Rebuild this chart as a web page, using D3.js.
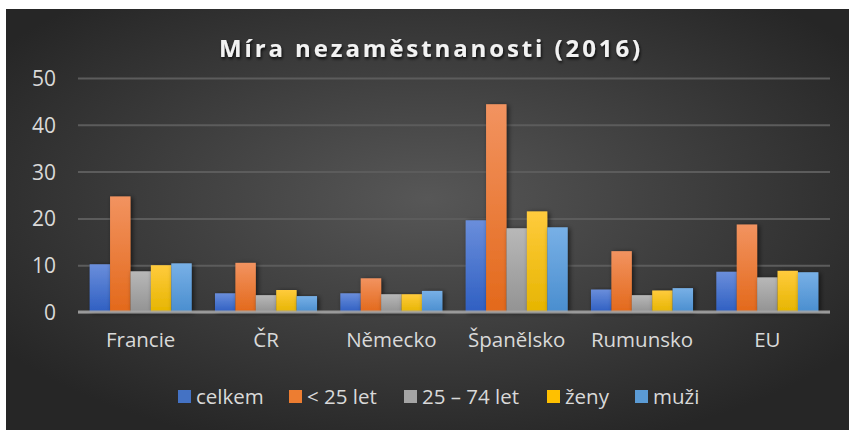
<!DOCTYPE html>
<html>
<head>
<meta charset="utf-8">
<script src="https://cdn.jsdelivr.net/npm/d3@7"></script>
<style>
  body { margin: 0; background: #fff; }
  svg { display: block; }
</style>
</head>
<body>
<div id="chart"></div>
<script>
var categories = ["Francie", "ČR", "Německo", "Španělsko", "Rumunsko", "EU"];
var seriesNames = ["celkem", "< 25 let", "25 – 74 let", "ženy", "muži"];
var celkem = [10.2, 4.0, 4.0, 19.6, 4.8, 8.6];
var pod25 = [24.7, 10.5, 7.2, 44.4, 13.0, 18.7];
var od25do74 = [8.7, 3.6, 3.8, 17.9, 3.6, 7.4];
var zeny = [10.0, 4.7, 3.8, 21.5, 4.6, 8.8];
var muzi = [10.4, 3.4, 4.5, 18.1, 5.1, 8.5];
var yTicks = [0, 10, 20, 30, 40, 50];

var seriesValues = [celkem, pod25, od25do74, zeny, muzi];
var colors = [
  ["#6a8edb", "#2f5fc2"],
  ["#f29360", "#e3691b"],
  ["#b8b8b8", "#939393"],
  ["#ffcb3d", "#e6b500"],
  ["#78b0e6", "#4a8ecf"]
];
var legendColors = ["#4472c4", "#ed7d31", "#a5a5a5", "#ffc000", "#5b9bd5"];

function init() {
  var w = 849, h = 430;
  var left = 78, right = 830, top = 78, bottom = 312;

  var svg = d3.select("#chart").append("svg")
    .attr("width", w)
    .attr("height", h);

  var defs = svg.append("defs");
  var bg = defs.append("radialGradient")
    .attr("id", "bg")
    .attr("cx", "50%").attr("cy", "45%").attr("r", "62%");
  bg.append("stop").attr("offset", "0%").attr("stop-color", "#575757");
  bg.append("stop").attr("offset", "100%").attr("stop-color", "#262626");

  colors.forEach(function(c, i) {
    var g = defs.append("linearGradient")
      .attr("id", "bar" + i)
      .attr("x1", 0).attr("y1", 0).attr("x2", 0).attr("y2", 1);
    g.append("stop").attr("offset", "0%").attr("stop-color", c[0]);
    g.append("stop").attr("offset", "100%").attr("stop-color", c[1]);
  });

  var sh = defs.append("filter").attr("id", "shadow")
    .attr("x", "-20%").attr("y", "-10%").attr("width", "160%").attr("height", "130%");
  sh.append("feDropShadow")
    .attr("dx", 2).attr("dy", 1).attr("stdDeviation", 2.5)
    .attr("flood-color", "#000").attr("flood-opacity", 0.6);

  var tsh = defs.append("filter").attr("id", "tshadow");
  tsh.append("feDropShadow")
    .attr("dx", 1).attr("dy", 2).attr("stdDeviation", 1.5)
    .attr("flood-color", "#000").attr("flood-opacity", 0.8);

  svg.append("rect")
    .attr("x", 6).attr("y", 9)
    .attr("width", w - 6).attr("height", h - 9)
    .attr("fill", "url(#bg)");

  var x0 = d3.scaleBand()
    .domain(categories)
    .range([left, right])
    .paddingInner(0.186)
    .paddingOuter(0.093);

  var x1 = d3.scaleBand()
    .domain(d3.range(seriesNames.length))
    .range([0, x0.bandwidth()]);

  var y = d3.scaleLinear()
    .domain([0, 50])
    .range([bottom, top]);

  // gridlines
  var yAxis = d3.axisLeft(y)
    .tickValues(yTicks)
    .tickSize(-(right - left))
    .tickPadding(22)
    .tickFormat(d3.format("d"));

  var ga = svg.append("g")
    .attr("transform", "translate(" + left + ",0)")
    .call(yAxis);
  ga.select(".domain").remove();
  ga.selectAll(".tick line")
    .attr("stroke", "#5c5c5c")
    .attr("stroke-width", 2);
  ga.selectAll(".tick text")
    .attr("fill", "#d9d9d9")
    .attr("font-family", "'Open Sans', sans-serif")
    .attr("font-size", "21px")
    .attr("dy", "0.36em");

  // bars
  var groups = svg.selectAll("g.cat")
    .data(categories)
    .enter()
    .append("g")
    .attr("class", "cat")
    .attr("transform", function(d) {
      return "translate(" + x0(d) + ",0)";
    });

  groups.selectAll("rect")
    .data(function(d, ci) {
      return seriesValues.map(function(s, si) {
        return { si: si, v: s[ci] };
      });
    })
    .enter()
    .append("rect")
    .attr("x", function(d) { return x1(d.si); })
    .attr("y", function(d) { return y(d.v); })
    .attr("width", x1.bandwidth())
    .attr("height", function(d) { return y(0) - y(d.v); })
    .attr("fill", function(d) { return "url(#bar" + d.si + ")"; })
    .attr("filter", "url(#shadow)");

  // baseline
  svg.append("line")
    .attr("x1", left).attr("x2", right)
    .attr("y1", y(0)).attr("y2", y(0))
    .attr("stroke", "#a6a6a6")
    .attr("stroke-opacity", 0.85)
    .attr("stroke-width", 3);

  // category labels
  var xAxis = d3.axisBottom(x0).tickSize(0).tickPadding(20);
  var gx = svg.append("g")
    .attr("transform", "translate(0," + y(0) + ")")
    .call(xAxis);
  gx.select(".domain").remove();
  gx.selectAll(".tick text")
    .attr("fill", "#d9d9d9")
    .attr("font-family", "'Open Sans', sans-serif")
    .attr("font-size", "20.5px");

  // title
  svg.append("text")
    .attr("x", 431)
    .attr("y", 57)
    .attr("text-anchor", "middle")
    .attr("fill", "#f2f2f2")
    .attr("font-family", "'Open Sans', sans-serif")
    .attr("font-weight", "bold")
    .attr("font-size", "24px")
    .attr("letter-spacing", "2.9px")
    .attr("filter", "url(#tshadow)")
    .text("Míra nezaměstnanosti (2016)");

  // legend
  var legendX = [178, 289, 404, 547, 635];
  var lg = svg.selectAll("g.leg")
    .data(seriesNames)
    .enter()
    .append("g")
    .attr("class", "leg")
    .attr("transform", function(d, i) {
      return "translate(" + legendX[i] + ",390)";
    });
  lg.append("rect")
    .attr("width", 13).attr("height", 13)
    .attr("fill", function(d, i) { return legendColors[i]; });
  lg.append("text")
    .attr("x", 18)
    .attr("y", 14)
    .attr("fill", "#d9d9d9")
    .attr("font-family", "'Open Sans', sans-serif")
    .attr("font-size", "20.5px")
    .text(function(d) { return d; });
}

window.onload = init;
</script>
</body>
</html>
